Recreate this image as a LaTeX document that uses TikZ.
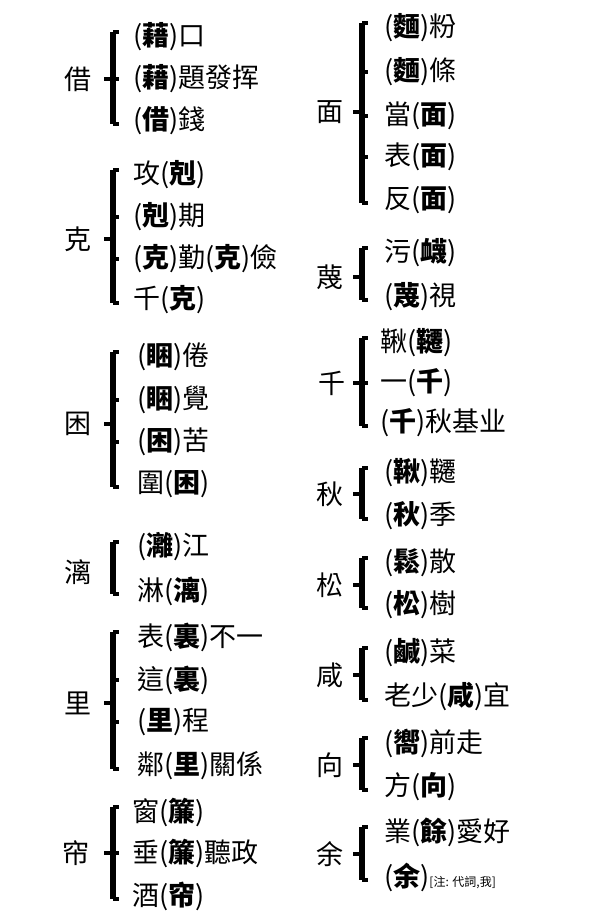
\documentclass[tikz,border=0pt]{standalone}
\usepackage{fontspec}
\newfontfamily\cjk{Noto Sans CJK TC}
\newcommand{\bd}[1]{{\bfseries #1}}

\begin{document}
\begin{tikzpicture}[x=1pt,y=-1pt,
  every node/.style={inner sep=0pt, font=\cjk\fontsize{27}{27}\selectfont},
  word/.style={anchor=west},
  bar/.style={line width=5.5pt},
  tick/.style={line width=3.5pt}]
	\useasboundingbox (0,0) rectangle (600,921);
	\fill[white] (0,0) rectangle (600,921);
	\coordinate (lbar) at (113,0);
	\coordinate (rbar) at (362,0);

	% left column
	\node (jie) at (78,79) {借};
	\node[word] (jie1) at (133,37) {(\bd{藉})口};
	\node[word] (jie2) at (133,79) {(\bd{藉})題發挥};
	\node[word] (jie3) at (133,121) {(\bd{借})錢};
	\draw[bar] ([yshift=5]jie1.west -| lbar) -- ([yshift=-3]jie3.west -| lbar);
	\draw[tick] ([yshift=5]jie1.west -| lbar) -- ++(6,0) ([yshift=-3]jie3.west -| lbar) -- ++(6,0)
		(jie2.west -| lbar) -- ++(6,0) (lbar |- jie) -- ++(-9,0);

	\node (ke) at (78,239) {克};
	\node[word] (ke1) at (133,175) {攻(\bd{剋})};
	\node[word] (ke2) at (133,217) {(\bd{剋})期};
	\node[word] (ke3) at (133,259) {(\bd{克})勤(\bd{克})儉};
	\node[word] (ke4) at (133,300) {千(\bd{克})};
	\draw[bar] ([yshift=5]ke1.west -| lbar) -- ([yshift=-3]ke4.west -| lbar);
	\draw[tick] ([yshift=5]ke1.west -| lbar) -- ++(6,0) ([yshift=-3]ke4.west -| lbar) -- ++(6,0)
		(ke2.west -| lbar) -- ++(6,0) (ke3.west -| lbar) -- ++(6,0) (lbar |- ke) -- ++(-9,0);

	\node (kun) at (78,424) {困};
	\node[word] (kun1) at (137,357) {(\bd{睏})倦};
	\node[word] (kun2) at (137,400) {(\bd{睏})覺};
	\node[word] (kun3) at (137,442) {(\bd{困})苦};
	\node[word] (kun4) at (137,484) {圍(\bd{困})};
	\draw[bar] ([yshift=5]kun1.west -| lbar) -- ([yshift=-3]kun4.west -| lbar);
	\draw[tick] ([yshift=5]kun1.west -| lbar) -- ++(6,0) ([yshift=-3]kun4.west -| lbar) -- ++(6,0)
		(kun2.west -| lbar) -- ++(6,0) (kun3.west -| lbar) -- ++(6,0) (lbar |- kun) -- ++(-9,0);

	\node (li) at (78,572) {漓};
	\node[word] (li1) at (137,547) {(\bd{灕})江};
	\node[word] (li2) at (137,591) {淋(\bd{漓})};
	\draw[bar] ([yshift=5]li1.west -| lbar) -- ([yshift=-3]li2.west -| lbar);
	\draw[tick] ([yshift=5]li1.west -| lbar) -- ++(6,0) ([yshift=-3]li2.west -| lbar) -- ++(6,0);

	\node (lii) at (78,703) {里};
	\node[word] (lii1) at (137,637) {表(\bd{裏})不一};
	\node[word] (lii2) at (137,680) {這(\bd{裏})};
	\node[word] (lii3) at (137,722) {(\bd{里})程};
	\node[word] (lii4) at (137,766) {鄰(\bd{里})關係};
	\draw[bar] ([yshift=5]lii1.west -| lbar) -- ([yshift=-3]lii4.west -| lbar);
	\draw[tick] ([yshift=5]lii1.west -| lbar) -- ++(6,0) ([yshift=-3]lii4.west -| lbar) -- ++(6,0)
		(lii2.west -| lbar) -- ++(6,0) (lii3.west -| lbar) -- ++(6,0) (lbar |- lii) -- ++(-9,0);

	\node (lian) at (76,853) {帘};
	\node[word] (lian1) at (132,812) {窗(\bd{簾})};
	\node[word] (lian2) at (132,853) {垂(\bd{簾})聽政};
	\node[word] (lian3) at (132,896) {酒(\bd{帘})};
	\draw[bar] ([yshift=5]lian1.west -| lbar) -- ([yshift=-3]lian3.west -| lbar);
	\draw[tick] ([yshift=5]lian1.west -| lbar) -- ++(6,0) ([yshift=-3]lian3.west -| lbar) -- ++(6,0)
		(lian2.west -| lbar) -- ++(6,0) (lbar |- lian) -- ++(-9,0);

	% right column
	\node (mian) at (330,112) {面};
	\node[word] (mian1) at (384,28) {(\bd{麵})粉};
	\node[word] (mian2) at (384,72) {(\bd{麵})條};
	\node[word] (mian3) at (384,116) {當(\bd{面})};
	\node[word] (mian4) at (384,157) {表(\bd{面})};
	\node[word] (mian5) at (384,200) {反(\bd{面})};
	\draw[bar] ([yshift=5]mian1.west -| rbar) -- ([yshift=-3]mian5.west -| rbar);
	\draw[tick] ([yshift=5]mian1.west -| rbar) -- ++(6,0) ([yshift=-3]mian5.west -| rbar) -- ++(6,0)
		(mian2.west -| rbar) -- ++(6,0) (mian3.west -| rbar) -- ++(6,0) (mian4.west -| rbar) -- ++(6,0)
		(rbar |- mian) -- ++(-9,0);

	\node (mie) at (330,277) {蔑};
	\node[word] (mie1) at (384,253) {污(\bd{衊})};
	\node[word] (mie2) at (384,297) {(\bd{蔑})視};
	\draw[bar] ([yshift=5]mie1.west -| rbar) -- ([yshift=-3]mie2.west -| rbar);
	\draw[tick] ([yshift=5]mie1.west -| rbar) -- ++(6,0) ([yshift=-3]mie2.west -| rbar) -- ++(6,0)
		(rbar |- mie) -- ++(-9,0);

	\node (qian) at (332,383) {千};
	\node[word] (qian1) at (380,343) {鞦(\bd{韆})};
	\node[word] (qian2) at (380,383) {一(\bd{千})};
	\node[word] (qian3) at (380,423) {(\bd{千})秋基业};
	\draw[bar] ([yshift=5]qian1.west -| rbar) -- ([yshift=-3]qian3.west -| rbar);
	\draw[tick] ([yshift=5]qian1.west -| rbar) -- ++(6,0) ([yshift=-3]qian3.west -| rbar) -- ++(6,0)
		(qian2.west -| rbar) -- ++(6,0) (rbar |- qian) -- ++(-9,0);

	\node (qiu) at (330,494) {秋};
	\node[word] (qiu1) at (384,473) {(\bd{鞦})韆};
	\node[word] (qiu2) at (384,516) {(\bd{秋})季};
	\draw[bar] ([yshift=5]qiu1.west -| rbar) -- ([yshift=-3]qiu2.west -| rbar);
	\draw[tick] ([yshift=5]qiu1.west -| rbar) -- ++(6,0) ([yshift=-3]qiu2.west -| rbar) -- ++(6,0)
		(rbar |- qiu) -- ++(-9,0);

	\node (song) at (330,585) {松};
	\node[word] (song1) at (384,563) {(\bd{鬆})散};
	\node[word] (song2) at (384,605) {(\bd{松})樹};
	\draw[bar] ([yshift=5]song1.west -| rbar) -- ([yshift=-3]song2.west -| rbar);
	\draw[tick] ([yshift=5]song1.west -| rbar) -- ++(6,0) ([yshift=-3]song2.west -| rbar) -- ++(6,0)
		(rbar |- song) -- ++(-9,0);

	\node (xian) at (330,675) {咸};
	\node[word] (xian1) at (384,653) {(\bd{鹹})菜};
	\node[word] (xian2) at (384,697) {老少(\bd{咸})宜};
	\draw[bar] ([yshift=5]xian1.west -| rbar) -- ([yshift=-3]xian2.west -| rbar);
	\draw[tick] ([yshift=5]xian1.west -| rbar) -- ++(6,0) ([yshift=-3]xian2.west -| rbar) -- ++(6,0)
		(rbar |- xian) -- ++(-9,0);

	\node (xiang) at (330,765) {向};
	\node[word] (xiang1) at (384,743) {(\bd{嚮})前走};
	\node[word] (xiang2) at (384,787) {方(\bd{向})};
	\draw[bar] ([yshift=5]xiang1.west -| rbar) -- ([yshift=-3]xiang2.west -| rbar);
	\draw[tick] ([yshift=5]xiang1.west -| rbar) -- ++(6,0) ([yshift=-3]xiang2.west -| rbar) -- ++(6,0)
		(rbar |- xiang) -- ++(-9,0);

	\node (yu) at (330,854) {余};
	\node[word] (yu1) at (384,832) {業(\bd{餘})愛好};
	\node[word] (yu2) at (384,877) {(\bd{余}){\fontsize{12}{12}\selectfont [注: 代詞,我]}};
	\draw[bar] ([yshift=5]yu1.west -| rbar) -- ([yshift=-3]yu2.west -| rbar);
	\draw[tick] ([yshift=5]yu1.west -| rbar) -- ++(6,0) ([yshift=-3]yu2.west -| rbar) -- ++(6,0)
		(rbar |- yu) -- ++(-9,0);
\end{tikzpicture}
\end{document}
